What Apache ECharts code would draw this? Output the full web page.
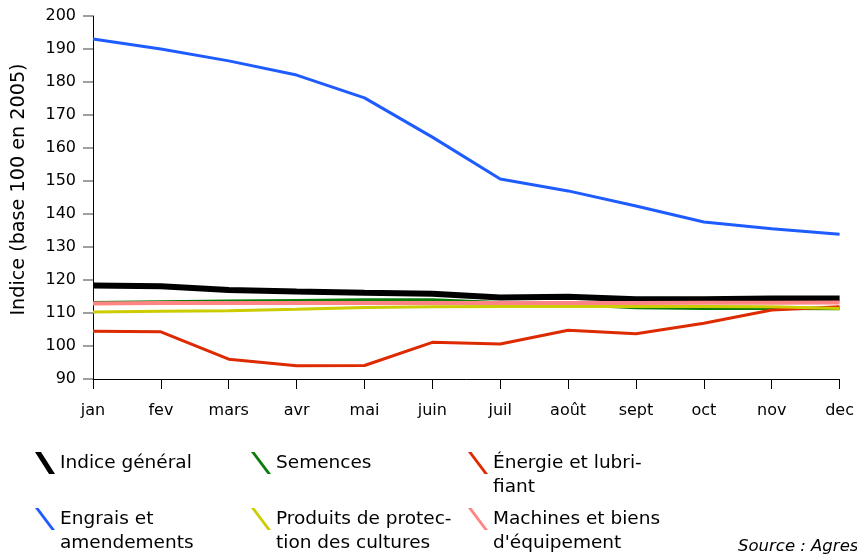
<!DOCTYPE html>
<html>
<head>
<meta charset="utf-8">
<script src="https://cdn.jsdelivr.net/npm/echarts@6/dist/echarts.min.js"></script>
<style>
html,body{margin:0;padding:0;background:#fff;}
#c{width:857px;height:556px;}
</style>
</head>
<body>
<div id="c"></div>
<script>
var months = ['jan','fev','mars','avr','mai','juin','juil','août','sept','oct','nov','dec'];
var yTicks = {min: 90, max: 200, interval: 10};
var seriesNames = ['Indice général','Semences','Énergie et lubrifiant','Engrais et amendements','Produits de protection des cultures',"Machines et biens d'équipement"];
var legendLabels = ['Indice général','Semences','Énergie et lubri-\nfiant','Engrais et\namendements','Produits de protec-\ntion des cultures',"Machines et biens\nd'équipement"];
var indiceGeneral = [118.3,118.1,117.0,116.5,116.1,115.8,114.7,114.9,114.2,114.2,114.4,114.4];
var semences      = [113.2,113.4,113.6,113.8,114.0,114.0,113.2,112.6,111.6,111.4,111.4,111.3];
var energie       = [104.5,104.3,96.0,94.0,94.1,101.1,100.6,104.8,103.7,106.9,110.9,111.9];
var engrais       = [193.0,190.0,186.4,182.1,175.2,163.3,150.6,147.0,142.4,137.6,135.5,133.9];
var produits      = [110.3,110.5,110.7,111.1,111.7,111.9,112.0,112.0,112.0,112.0,111.9,111.4];
var machines      = [112.9,113.0,113.0,113.0,113.0,113.0,113.0,113.0,113.0,113.1,113.1,113.2];
var yAxisTitle = 'Indice (base 100 en 2005)';
var sourceText = 'Source : Agreste';

var values = [indiceGeneral, semences, energie, engrais, produits, machines];
var colors = ['#000000','#0a7d0a','#dd2a00','#1f5cff','#cccc00','#ff8585'];
var widths = [6,3,3,3,3,4];

var FONT = 'DejaVu Sans';
var series = seriesNames.map(function(n,i){
  return {
    name: n, type: 'line', data: values[i], symbol: 'none', smooth: false,
    lineStyle: {color: colors[i], width: widths[i]},
    itemStyle: {color: colors[i]},
    z: 2
  };
});

var thinIcon = 'path://M0,0 L3.5,0 L20,22 L16.5,22 Z';
var thickIcon = 'path://M0,0 L6,0 L20,22 L14,22 Z';
var legendPos = [
  {left: 35, top: 451, two: false},
  {left: 251, top: 451, two: false},
  {left: 468, top: 427, two: true},
  {left: 35, top: 483, two: true},
  {left: 251, top: 483, two: true},
  {left: 468, top: 483, two: true}
];
var legends = legendPos.map(function(p,i){
  return {
    data: [seriesNames[i]],
    left: p.left, top: p.top, padding: 0,
    orient: 'vertical',
    icon: i === 0 ? thickIcon : thinIcon,
    itemWidth: 20, itemHeight: 22, itemGap: 0,
    selectedMode: false,
    formatter: function(){ return p.two ? ' \n' + legendLabels[i] : legendLabels[i]; },
    textStyle: {fontFamily: FONT, fontSize: 18.5, color: '#000', lineHeight: 24}
  };
});

var chart = echarts.init(document.getElementById('c'), null, {renderer: 'canvas'});
chart.setOption({
  animation: false,
  backgroundColor: '#fff',
  grid: {left: 93, right: 15, top: 16, bottom: 177, containLabel: false},
  legend: legends,
  xAxis: {
    type: 'category', data: months, boundaryGap: false,
    axisLine: {lineStyle: {color: '#000', width: 1}},
    axisTick: {show: true, length: 10, alignWithLabel: true, lineStyle: {color: '#000'}},
    axisLabel: {fontFamily: FONT, fontSize: 16, color: '#000', margin: 24, interval: 0},
    splitLine: {show: false}
  },
  yAxis: {
    type: 'value', min: yTicks.min, max: yTicks.max, interval: yTicks.interval,
    axisLine: {show: true, lineStyle: {color: '#000', width: 1}},
    axisTick: {show: true, length: 10, lineStyle: {color: '#808080', width: 1.5}},
    axisLabel: {fontFamily: FONT, fontSize: 16, color: '#000', margin: 17},
    splitLine: {show: false}
  },
  graphic: [{
    type: 'text', x: 19, y: 189.5, rotation: Math.PI / 2,
    style: {text: yAxisTitle, font: '19.2px "DejaVu Sans"', fill: '#000', align: 'center', verticalAlign: 'middle'}
  }, {
    type: 'text', left: 738, top: 538,
    style: {text: sourceText, font: 'italic 16.5px "DejaVu Sans"', fill: '#000'}
  }],
  series: series
});
</script>
</body>
</html>
